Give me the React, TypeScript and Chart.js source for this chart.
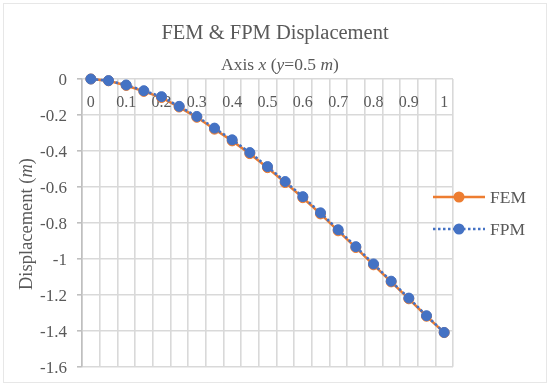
import React, { useEffect, useRef } from 'react';
import { Chart, registerables } from 'chart.js';

Chart.register(...registerables);

// ---- data ----
const xCategories = ['0', '0.05', '0.1', '0.15', '0.2', '0.25', '0.3', '0.35', '0.4', '0.45', '0.5', '0.55', '0.6', '0.65', '0.7', '0.75', '0.8', '0.85', '0.9', '0.95', '1'];
const xTickLabels = ['0', '0.1', '0.2', '0.3', '0.4', '0.5', '0.6', '0.7', '0.8', '0.9', '1'];
const femValues = [0, -0.010, -0.036, -0.069, -0.103, -0.156, -0.213, -0.279, -0.344, -0.415, -0.493, -0.576, -0.660, -0.750, -0.844, -0.937, -1.033, -1.128, -1.222, -1.319, -1.410];
const fpmValues = [0, -0.009, -0.033, -0.065, -0.098, -0.152, -0.208, -0.273, -0.338, -0.409, -0.487, -0.570, -0.654, -0.744, -0.838, -0.932, -1.028, -1.124, -1.218, -1.316, -1.409];
const seriesNames = ['FEM', 'FPM'];
const yMin = -1.6;
const yMax = 0;
const yStep = 0.2;
const chartTitle = 'FEM & FPM Displacement';
const xAxisTitle: [string, boolean][] = [['Axis ', false], ['x', true], [' (', false], ['y', true], ['=0.5 ', false], ['m', true], [')', false]];
const yAxisTitle: [string, boolean][] = [['Displacement (', false], ['m', true], [')', false]];

const FONT = '"Liberation Serif", "Times New Roman", serif';
const TEXT = '#595959';
const ORANGE = '#ED7D31';
const BLUE = '#4472C4';

function font(size: number, italic = false) {
  return `${italic ? 'italic ' : ''}${size}px ${FONT}`;
}

function drawRich(ctx: CanvasRenderingContext2D, parts: [string, boolean][], size: number, cx: number, baseline: number) {
  let total = 0;
  for (const [t, it] of parts) {
    ctx.font = font(size, it);
    total += ctx.measureText(t).width;
  }
  let x = cx - total / 2;
  ctx.textAlign = 'left';
  ctx.textBaseline = 'alphabetic';
  for (const [t, it] of parts) {
    ctx.font = font(size, it);
    ctx.fillText(t, x, baseline);
    x += ctx.measureText(t).width;
  }
}

const decorPlugin = {
  id: 'decor',
  afterDraw(chart: any) {
    const ctx: CanvasRenderingContext2D = chart.ctx;
    ctx.save();
    // outer dotted frame
    ctx.strokeStyle = '#cfcfcf';
    ctx.lineWidth = 1;
    ctx.setLineDash([1, 1]);
    ctx.strokeRect(3.5, 3.5, 543, 379);
    ctx.setLineDash([]);

    ctx.fillStyle = TEXT;
    // chart title
    ctx.font = font(20.5);
    ctx.textAlign = 'center';
    ctx.textBaseline = 'alphabetic';
    ctx.fillText(chartTitle, 275, 38.5);
    // x axis title
    drawRich(ctx, xAxisTitle, 17.5, 280, 70);
    // y axis title
    ctx.save();
    ctx.translate(31.5, 224);
    ctx.rotate(-Math.PI / 2);
    drawRich(ctx, yAxisTitle, 18.5, 0, 0);
    ctx.restore();

    // legend (in series order: FEM, FPM)
    const rows = [197, 229];
    seriesNames.forEach((name, i) => {
      const d = chart.data.datasets.find((x: any) => x.label === name);
      if (!d) return;
      const y = rows[i];
      ctx.strokeStyle = d.borderColor;
      ctx.lineWidth = d.borderWidth;
      ctx.setLineDash(d.borderDash || []);
      ctx.beginPath();
      ctx.moveTo(433, y);
      ctx.lineTo(485, y);
      ctx.stroke();
      ctx.setLineDash([]);
      ctx.fillStyle = d.pointBackgroundColor;
      ctx.beginPath();
      ctx.arc(459, y, d.pointRadius + d.pointBorderWidth / 2, 0, Math.PI * 2);
      ctx.fill();
      ctx.fillStyle = TEXT;
      ctx.font = font(17.5);
      ctx.textAlign = 'left';
      ctx.textBaseline = 'alphabetic';
      ctx.fillText(name, 490, y + 6.3);
    });
    ctx.restore();
  },
};

export default function App() {
  const ref = useRef<HTMLCanvasElement | null>(null);
  useEffect(() => {
    if (!ref.current) return;
    const chart = new Chart(ref.current, {
      type: 'line',
      data: {
        labels: xCategories,
        datasets: [
          {
            label: seriesNames[1],
            data: fpmValues,
            borderColor: BLUE,
            backgroundColor: BLUE,
            borderWidth: 2.5,
            borderDash: [2.5, 2.5],
            pointRadius: 5,
            pointBorderWidth: 1,
            pointBackgroundColor: BLUE,
            pointBorderColor: BLUE,
            tension: 0,
            clip: false,
          },
          {
            label: seriesNames[0],
            data: femValues,
            borderColor: ORANGE,
            backgroundColor: ORANGE,
            borderWidth: 2.5,
            pointRadius: 5,
            pointBorderWidth: 1,
            pointBackgroundColor: ORANGE,
            pointBorderColor: ORANGE,
            tension: 0,
            clip: false,
          },
        ],
      },
      options: {
        responsive: false,
        animation: false,
        devicePixelRatio: 1,
        layout: { padding: { left: 0, top: 0, right: 97, bottom: 20 } },
        plugins: {
          legend: { display: false },
          title: { display: false },
          tooltip: { enabled: false },
        },
        scales: {
          x: {
            type: 'category',
            position: 'top',
            offset: true,
            grid: { display: true, offset: true, color: '#d9d9d9', lineWidth: 1.6, drawTicks: false },
            border: { display: false },
            ticks: {
              autoSkip: false,
              maxRotation: 0,
              minRotation: 0,
              mirror: true,
              padding: 14.5,
              color: TEXT,
              font: { family: FONT, size: 16 },
              callback: (_v: any, i: number) => (xTickLabels.includes(xCategories[i]) ? xCategories[i] : ''),
            },
            afterFit: (s: any) => { s.height = 79; },
          },
          y: {
            type: 'linear',
            min: yMin,
            max: yMax,
            grid: { color: '#d9d9d9', lineWidth: 1.6, drawTicks: true, tickLength: 5, tickColor: '#bfbfbf' },
            border: { display: true, color: '#bfbfbf', width: 1.6 },
            ticks: {
              stepSize: yStep,
              padding: 10,
              labelOffset: 2,
              color: TEXT,
              font: { family: FONT, size: 17 },
              callback: (v: any) => String(Math.round(Number(v) * 10) / 10),
            },
            afterFit: (s: any) => { s.width = 82; },
          },
        },
      },
      plugins: [decorPlugin],
    });
    return () => chart.destroy();
  }, []);
  return (
    <div style={{ position: 'fixed', left: 0, top: 0, width: 550, height: 387, background: '#fff' }}>
      <canvas ref={ref} width={550} height={387} style={{ display: 'block' }} />
    </div>
  );
}
